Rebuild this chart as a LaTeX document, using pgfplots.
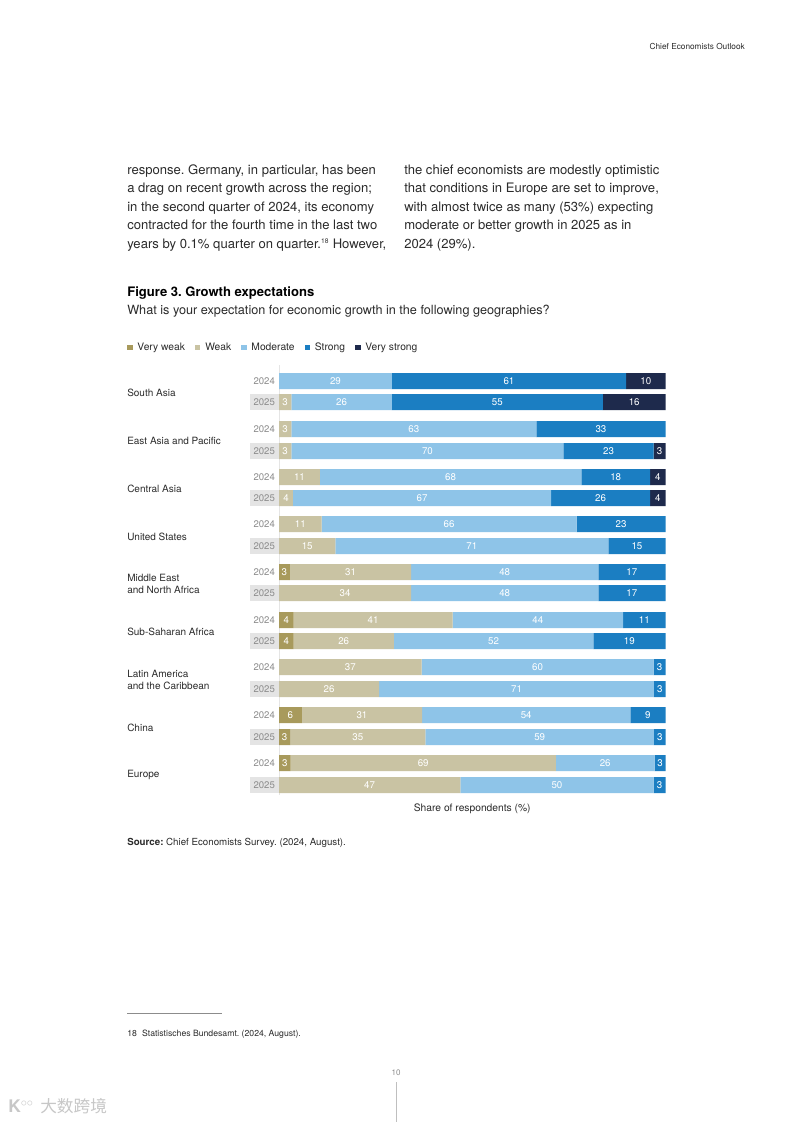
\documentclass[border=0pt]{standalone}
\usepackage{pgfplots}
\usepackage{pgfplotstable}
\pgfplotsset{compat=1.18}
\usepackage{fontspec}
\setmainfont{TeX Gyre Heros}
\newfontfamily\cjk{Noto Sans CJK SC}

\definecolor{vweak}{HTML}{A89A5C}
\definecolor{weak}{HTML}{C9C3A3}
\definecolor{moderate}{HTML}{8EC4E8}
\definecolor{strong}{HTML}{1B7EC2}
\definecolor{vstrong}{HTML}{1E2A4C}
\definecolor{yearbox}{HTML}{E4E4E4}
\definecolor{bodytext}{HTML}{2B2B2B}
\definecolor{softgray}{HTML}{8C8C8C}

% y = minus the pixel row of each bar on the page
% shares (labels are these rounded)
\pgfplotstableread{
y    vw  w    m    s    vs
-381 0   0    29.2 60.6 10.2
-402 0   3.2  26.0 54.6 16.2
-429 0   3.2  63.4 33.4 0
-451 0   3.2  70.4 23.3 3.1
-477 0   10.6 67.6 17.8 4.0
-498 0   3.6  66.8 25.6 4.0
-524 0   11.0 66.0 23.0 0
-546 0   14.6 70.6 14.8 0
-572 2.8 31.4 48.4 17.4 0
-593 0   34.2 48.4 17.4 0
-620 3.8 41.1 44.1 11.0 0
-641 3.8 25.9 51.6 18.7 0
-667 0   36.9 60.0 3.1  0
-689 0   25.9 71.1 3.0  0
-715 5.9 31.1 53.9 9.1  0
-737 2.9 35.0 59.1 3.0  0
-763 3.0 68.6 25.6 2.8  0
-785 0   46.9 50.0 3.1  0
}\growth

\newcommand\bodyfont{\fontsize{9.8}{14}\selectfont}
\newcommand\smallfont{\fontsize{7.7}{9}\selectfont}

\begin{document}
\frenchspacing
\begin{tikzpicture}
\begin{scope}[x=0.75pt,y=-0.75pt]
\fill[white] (0,0) rectangle (793,1122);
\path[use as bounding box] (0,0) rectangle (793,1122);
\coordinate (axpos) at (279,365);

% running header
\node[anchor=base east, inner sep=0, text=bodytext, font=\fontsize{6.2}{7}\selectfont] at (745,49) {Chief Economists Outlook};

% body text, two columns
\begin{scope}[every node/.style={anchor=base west, inner sep=0, text=bodytext, font=\bodyfont}]
\node at (127,174) {response. Germany, in particular, has been};
\node at (127,192.6) {a drag on recent growth across the region;};
\node at (127,211.2) {in the second quarter of 2024, its economy};
\node at (127,229.8) {contracted for the fourth time in the last two};
\node at (127,248.4) {years by 0.1\% quarter on quarter.\textsuperscript{\fontsize{5}{6}\selectfont 18} However,};
\node at (404,174) {the chief economists are modestly optimistic};
\node at (404,192.6) {that conditions in Europe are set to improve,};
\node at (404,211.2) {with almost twice as many (53\%) expecting};
\node at (404,229.8) {moderate or better growth in 2025 as in};
\node at (404,248.4) {2024 (29\%).};
\node[text=black] at (127,296) {\bfseries Figure 3. Growth expectations};
\node[font=\fontsize{9.5}{14}\selectfont] at (127,314) {What is your expectation for economic growth in the following geographies?};
\end{scope}

% region names
\begin{scope}[every node/.style={anchor=west, align=left, inner sep=0, text=bodytext, font=\fontsize{7.5}{9}\selectfont}]
\node at (127,392.5) {South Asia};
\node at (127,440.5) {East Asia and Pacific};
\node at (127,488.5) {Central Asia};
\node at (127,536.5) {United States};
\node at (127,583.5) {Middle East\\and North Africa};
\node at (127,631.5) {Sub-Saharan Africa};
\node at (127,679.5) {Latin America\\and the Caribbean};
\node at (127,727.5) {China};
\node at (127,774.5) {Europe};
\end{scope}

% source and footnote
\node[anchor=base west, inner sep=0, text=bodytext, font=\fontsize{7.3}{8}\selectfont] at (127,845) {\bfseries Source:\mdseries{} Chief Economists Survey. (2024, August).};
\draw[black!45, line width=0.4pt] (127,1013) -- (222,1013);
\node[anchor=base west, inner sep=0, text=bodytext, font=\fontsize{6.5}{7}\selectfont] at (127,1036) {18\hspace{0.6em}Statistisches Bundesamt. (2024, August).};
\node[anchor=base, inner sep=0, text=softgray, font=\fontsize{6}{7}\selectfont] at (396,1075) {10};
\draw[black!25, line width=0.4pt] (396,1082) -- (396,1122);
\node[anchor=west, inner sep=0, text=black!22, font=\cjk\fontsize{12.5}{13}\selectfont] at (40,1106) {大数跨境};
\node[anchor=west, inner sep=0, text=black!22, font=\bfseries\fontsize{13}{13}\selectfont] at (8,1106) {K$^{\circ\circ}$};
\end{scope}

\begin{axis}[
    at={(axpos)}, anchor=north west,
    scale only axis, width=289.9pt, height=322.5pt,
    xmin=0, xmax=100, ymin=-795, ymax=-365,
    xbar stacked, bar width=16,
    axis x line*=bottom, x axis line style={draw=none}, xtick=\empty,
    axis y line*=left, y axis line style={draw=black!10},
    major tick length=0pt,
    ytick={-381,-429,-477,-524,-572,-620,-667,-715,-763},
    yticklabels={2024,2024,2024,2024,2024,2024,2024,2024,2024},
    extra y ticks={-402,-451,-498,-546,-593,-641,-689,-737,-785},
    extra y tick labels={2025,2025,2025,2025,2025,2025,2025,2025,2025},
    extra y tick style={yticklabel style={fill=yearbox}},
    yticklabel style={font=\fontsize{7.2}{8}\selectfont, text=softgray, inner sep=0pt,
        minimum width=21.75pt, minimum height=12pt, anchor=east},
    xlabel={Share of respondents (\%)},
    xlabel style={at={(axis description cs:0.5,-0.0326)}, anchor=center, inner sep=0pt,
        font=\smallfont, text=bodytext},
    point meta=explicit,
    nodes near coords={\pgfmathfloatifflags{\pgfplotspointmeta}{0}{}{\pgfmathprintnumber[fixed,precision=0]{\pgfplotspointmeta}}},
    every node near coord/.append style={anchor=center,
        font=\fontsize{7.3}{8}\selectfont, text=white},
    /pgf/number format/assume math mode=true,
    legend columns=-1,
    legend style={at={(axis description cs:-0.393,1.039)}, anchor=west, draw=none, fill=none,
        font=\smallfont, text=bodytext, inner sep=0pt,
        nodes={text height=5.6pt, text depth=1.6pt},
        /tikz/every even column/.append style={column sep=5.6pt}},
    legend image code/.code={\fill[#1,draw=none] (0pt,-1.6pt) rectangle (4pt,2.4pt);
        \path (5.6pt,0pt);},
]
\addplot[fill=vweak, draw=none] table[x=vw, y=y, meta=vw] {\growth};
\addlegendentry{Very weak}
\addplot[fill=weak, draw=none] table[x=w, y=y, meta=w] {\growth};
\addlegendentry{Weak}
\addplot[fill=moderate, draw=none] table[x=m, y=y, meta=m] {\growth};
\addlegendentry{Moderate}
\addplot[fill=strong, draw=none] table[x=s, y=y, meta=s] {\growth};
\addlegendentry{Strong}
\addplot[fill=vstrong, draw=none] table[x=vs, y=y, meta=vs] {\growth};
\addlegendentry{Very strong}
\end{axis}
\end{tikzpicture}
\end{document}
